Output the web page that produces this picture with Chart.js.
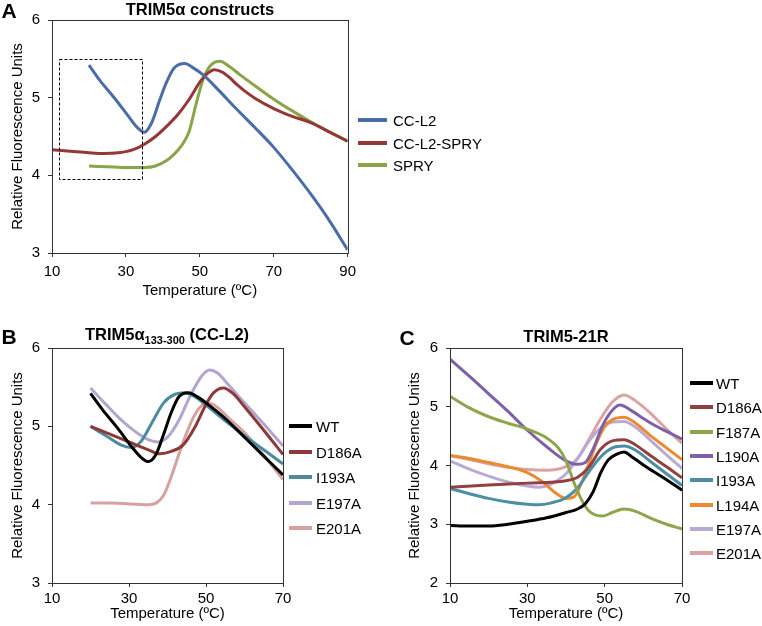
<!DOCTYPE html>
<html>
<head>
<meta charset="utf-8">
<script src="https://cdn.jsdelivr.net/npm/chart.js@4/dist/chart.umd.min.js"></script>
<style>
  html, body { margin:0; padding:0; background:#fff; }
  body { width:762px; height:626px; overflow:hidden; position:relative; font-family:'Liberation Sans', Arial, sans-serif; color:#000; }
  canvas { position:absolute; }
  .t { position:absolute; transform:translate(-50%,-50%); line-height:1; white-space:nowrap; font-weight:bold; }
  .t sub { font-size:11px; vertical-align:-4px; line-height:0; }
  .legtxt { position:absolute; font-size:15px; line-height:1; white-space:nowrap; transform:translateY(-50%); }
  .legline { position:absolute; height:4px; transform:translateY(-50%); }
</style>
</head>
<body>
<canvas id="cA" width="362" height="305" style="left:0;top:0"></canvas>
<canvas id="cB" width="300" height="326" style="left:0;top:300px"></canvas>
<canvas id="cC" width="320" height="326" style="left:380px;top:300px"></canvas>

<div class="t" style="left:9px;top:10px;font-size:21px">A</div>
<div class="t" style="left:200px;top:9px;font-size:16.5px">TRIM5α constructs</div>
<div class="t" style="left:9px;top:336px;font-size:21px">B</div>
<div class="t" style="left:167px;top:334px;font-size:16.5px">TRIM5α<sub>133-300</sub> (CC-L2)</div>
<div class="t" style="left:407px;top:337px;font-size:21px">C</div>
<div class="t" style="left:566px;top:336px;font-size:16.5px">TRIM5-21R</div>

<script>
// ---------------- Panel A: TRIM5α constructs ----------------
const namesA = ['CC-L2', 'CC-L2-SPRY', 'SPRY'];
const colorsA = ['#4A6DA7', '#953735', '#8AA548'];
const tempsA_CCL2 = [20,23,27,31,33,35,37,39,41,43,46,48,51,55,60,65,70,75,80,85,90];
const valsA_CCL2  = [5.42,5.22,4.99,4.74,4.62,4.555,4.68,4.95,5.2,5.38,5.44,5.39,5.29,5.1,4.85,4.61,4.36,4.07,3.76,3.42,3.04];
const tempsA_CCL2SPRY = [10,15,20,24,28,32,35,38,41,44,47,50,52,54,56,58,60,62,65,70,75,80,85,90];
const valsA_CCL2SPRY  = [4.33,4.31,4.29,4.28,4.29,4.33,4.40,4.50,4.63,4.78,4.97,5.2,5.31,5.36,5.33,5.26,5.17,5.09,4.99,4.86,4.76,4.68,4.56,4.44];
const tempsA_SPRY = [20,25,30,35,38,41,43,45,47,49,51,53,55.5,58,61,65,70,75,80,85,90];
const valsA_SPRY  = [4.12,4.11,4.10,4.10,4.12,4.19,4.27,4.38,4.55,4.92,5.25,5.42,5.47,5.4,5.29,5.15,4.98,4.83,4.69,4.56,4.44];
const dashedBoxA = [12, 34.5, 3.95, 5.5]; // xMin, xMax, yMin, yMax (data units)
const xTicksA = [10, 90, 20];
const yTicksA = [3, 6, 1];

// ---------------- Panel B: TRIM5α133-300 (CC-L2) ----------------
const namesB = ['WT', 'D186A', 'I193A', 'E197A', 'E201A'];
const colorsB = ['#000000', '#8C3A38', '#4D8A9C', '#B3A5CF', '#D6A19F'];
const tempsB_WT = [20,23,27,31,33,35,37,39,41,43,45.5,48,50,55,60,65,70];
const valsB_WT  = [5.42,5.22,4.98,4.72,4.61,4.55,4.64,4.9,5.18,5.38,5.43,5.37,5.3,5.1,4.86,4.62,4.38];
const tempsB_D186A = [20,25,30,35,38,41,44,47,50,52,54.5,57,60,65,70];
const valsB_D186A  = [5.0,4.9,4.8,4.7,4.65,4.68,4.76,4.98,5.28,5.43,5.49,5.42,5.25,4.95,4.64];
const tempsB_I193A = [20,24,28,30.5,33,36,39,42,44.5,47,50,55,60,65,70];
const valsB_I193A  = [5.0,4.88,4.76,4.73,4.8,5.05,5.3,5.41,5.43,5.38,5.27,5.07,4.88,4.7,4.52];
const tempsB_E197A = [20,24,28,32,35,37.5,40,43,46,49,51,53,56,60,65,70];
const valsB_E197A  = [5.49,5.28,5.08,4.92,4.83,4.8,4.86,5.08,5.4,5.65,5.72,5.68,5.52,5.3,5.03,4.75];
const tempsB_E201A = [20,25,30,35,37,39,41,43,45,47,49,51,53,56,60,65,70];
const valsB_E201A  = [4.02,4.02,4.01,4.0,4.02,4.12,4.36,4.65,4.92,5.14,5.27,5.29,5.24,5.1,4.92,4.63,4.32];
const xTicksB = [10, 70, 20];
const yTicksB = [3, 6, 1];

// ---------------- Panel C: TRIM5-21R ----------------
const namesC = ['WT', 'D186A', 'F187A', 'L190A', 'I193A', 'L194A', 'E197A', 'E201A'];
const colorsC = ['#000000', '#944040', '#8DA64B', '#7D60A8', '#4B8FA5', '#EB8A2E', '#B9AAD5', '#DBA4A2'];
const tempsC_WT = [10,15,20,25,30,35,40,43,45,47,49,51,53,55,57,60,65,70];
const valsC_WT  = [2.98,2.97,2.97,3.0,3.05,3.11,3.2,3.26,3.35,3.55,3.88,4.1,4.19,4.23,4.15,4.01,3.8,3.58];
const tempsC_D186A = [10,20,30,40,43,46,49,52,55,58,62,66,70];
const valsC_D186A  = [3.63,3.67,3.7,3.74,3.8,3.98,4.28,4.42,4.44,4.35,4.16,3.98,3.79];
const tempsC_F187A = [10,15,20,25,30,35,38,40,42,44,46,48,49.5,52,55,58,62,66,70];
const valsC_F187A  = [5.18,4.98,4.83,4.72,4.62,4.47,4.3,4.08,3.72,3.42,3.22,3.15,3.14,3.2,3.26,3.22,3.1,3.0,2.92];
const tempsC_L190A = [10,15,20,25,30,35,40,43,45,47,50,54,57,60,63,66,70];
const valsC_L190A  = [5.81,5.52,5.22,4.92,4.6,4.32,4.08,4.02,4.05,4.28,4.75,5.03,4.93,4.8,4.68,4.58,4.45];
const tempsC_I193A = [10,15,20,25,30,33,36,40,43,46,49,52,55,58,62,66,70];
const valsC_I193A  = [3.61,3.52,3.44,3.38,3.34,3.33,3.36,3.45,3.62,3.9,4.15,4.3,4.33,4.26,4.06,3.86,3.66];
const tempsC_L194A = [10,15,20,25,30,34,37,40,42,44,46,48,50,52,55,58,62,66,70];
const valsC_L194A  = [4.17,4.12,4.05,3.98,3.88,3.72,3.55,3.44,3.46,3.7,4.05,4.4,4.66,4.78,4.82,4.72,4.5,4.3,4.1];
const tempsC_E197A = [10,15,20,25,30,33,36,40,43,46,49,52,55,58,62,66,70];
const valsC_E197A  = [4.08,3.94,3.82,3.72,3.65,3.63,3.68,3.86,4.12,4.42,4.64,4.74,4.75,4.65,4.42,4.18,3.95];
const tempsC_E201A = [10,15,20,25,30,35,40,43,46,49,52,55,58,62,66,70];
const valsC_E201A  = [4.17,4.1,4.03,3.97,3.93,3.92,3.98,4.12,4.45,4.8,5.08,5.2,5.1,4.88,4.62,4.38];
const xTicksC = [10, 70, 20];
const yTicksC = [2, 6, 1];

const xTitle = 'Temperature (ºC)';
const yTitle = 'Relative Fluorescence Units';

// ---------------- helpers ----------------
const FONT = "'Liberation Sans', Arial, sans-serif";
Chart.defaults.font.family = FONT;
Chart.defaults.font.size = 15;
Chart.defaults.color = '#000';

function pts(t, v) { return t.map((x, i) => ({ x: x, y: v[i] })); }
function ds(label, color, t, v) {
  return { label, data: pts(t, v), borderColor: color, backgroundColor: color,
           borderWidth: 3, pointRadius: 0, pointHoverRadius: 0, fill: false,
           cubicInterpolationMode: 'monotone' };
}

const boxPlugin = {
  id: 'box',
  afterDatasetsDraw(chart, args, opts) {
    const { ctx, chartArea: a, scales } = chart;
    ctx.save();
    ctx.strokeStyle = '#333';
    ctx.lineWidth = 1;
    ctx.strokeRect(Math.round(a.left) + 0.5, Math.round(a.top) + 0.5,
                   Math.round(a.right - a.left), Math.round(a.bottom - a.top));
    if (opts && opts.dashed) {
      const d = opts.dashed;
      const x1 = scales.x.getPixelForValue(d[0]), x2 = scales.x.getPixelForValue(d[1]);
      const y1 = scales.y.getPixelForValue(d[3]), y2 = scales.y.getPixelForValue(d[2]);
      ctx.strokeStyle = '#000';
      ctx.setLineDash([3, 2]);
      ctx.strokeRect(Math.round(x1) + 0.5, Math.round(y1) + 0.5, Math.round(x2 - x1), Math.round(y2 - y1));
    }
    ctx.restore();
  }
};

function makeChart(id, datasets, cfg) {
  return new Chart(document.getElementById(id), {
    type: 'line',
    data: { datasets },
    plugins: [boxPlugin],
    options: {
      responsive: false,
      animation: false,
      events: [],
      layout: { padding: cfg.padding },
      plugins: { legend: { display: false }, tooltip: { enabled: false }, title: { display: false },
                 box: { dashed: cfg.dashed || null } },
      scales: {
        x: {
          type: 'linear', min: cfg.xt[0], max: cfg.xt[1],
          afterFit: s => { s.height = cfg.xh; },
          ticks: { stepSize: cfg.xt[2], padding: cfg.xtp, maxRotation: 0, font: { size: 15 }, color: '#000' },
          grid: { drawOnChartArea: false, drawTicks: true, tickLength: 4, color: '#333' },
          border: { display: true, color: '#333', width: 1 },
          title: { display: true, text: xTitle, font: { size: 15, lineHeight: 1.2 }, color: '#000',
                   padding: { top: 0, bottom: cfg.xtb } }
        },
        y: {
          type: 'linear', min: cfg.yt[0], max: cfg.yt[1],
          afterFit: s => { s.width = cfg.yw; },
          ticks: { stepSize: cfg.yt[2], padding: 8, font: { size: 15 }, color: '#000' },
          grid: { drawOnChartArea: false, drawTicks: true, tickLength: 4, color: '#333' },
          border: { display: true, color: '#333', width: 1 },
          title: { display: true, text: yTitle, font: { size: 15, lineHeight: 1.2 }, color: '#000',
                   padding: { top: cfg.ytp, bottom: 0 } }
        }
      }
    }
  });
}

makeChart('cA', [
  ds(namesA[0], colorsA[0], tempsA_CCL2, valsA_CCL2),
  ds(namesA[1], colorsA[1], tempsA_CCL2SPRY, valsA_CCL2SPRY),
  ds(namesA[2], colorsA[2], tempsA_SPRY, valsA_SPRY)
], { padding: { left: 0, top: 20, right: 13, bottom: 0 }, xh: 52, yw: 52, xtp: 6, xtb: 5, ytp: 9,
     xt: xTicksA, yt: yTicksA, dashed: dashedBoxA });

makeChart('cB', [
  ds(namesB[0], colorsB[0], tempsB_WT, valsB_WT),
  ds(namesB[1], colorsB[1], tempsB_D186A, valsB_D186A),
  ds(namesB[2], colorsB[2], tempsB_I193A, valsB_I193A),
  ds(namesB[3], colorsB[3], tempsB_E197A, valsB_E197A),
  ds(namesB[4], colorsB[4], tempsB_E201A, valsB_E201A)
], { padding: { left: 0, top: 48, right: 17, bottom: 0 }, xh: 43, yw: 52, xtp: 3, xtb: 3, ytp: 9,
     xt: xTicksB, yt: yTicksB });

makeChart('cC', [
  ds(namesC[0], colorsC[0], tempsC_WT, valsC_WT),
  ds(namesC[1], colorsC[1], tempsC_D186A, valsC_D186A),
  ds(namesC[2], colorsC[2], tempsC_F187A, valsC_F187A),
  ds(namesC[3], colorsC[3], tempsC_L190A, valsC_L190A),
  ds(namesC[4], colorsC[4], tempsC_I193A, valsC_I193A),
  ds(namesC[5], colorsC[5], tempsC_L194A, valsC_L194A),
  ds(namesC[6], colorsC[6], tempsC_E197A, valsC_E197A),
  ds(namesC[7], colorsC[7], tempsC_E201A, valsC_E201A)
], { padding: { left: 0, top: 48, right: 18, bottom: 0 }, xh: 43, yw: 70, xtp: 3, xtb: 3, ytp: 26,
     xt: xTicksC, yt: yTicksC });

// ---------------- legends (HTML text) ----------------
function legend(names, colors, lx, lw, tx, y0, step) {
  names.forEach((n, i) => {
    const y = y0 + i * step;
    const line = document.createElement('div');
    line.className = 'legline';
    line.style.cssText = `left:${lx}px;top:${y}px;width:${lw}px;background:${colors[i]}`;
    document.body.appendChild(line);
    const t = document.createElement('div');
    t.className = 'legtxt';
    t.style.cssText = `left:${tx}px;top:${y}px`;
    t.textContent = n;
    document.body.appendChild(t);
  });
}
legend(namesA, colorsA, 358, 29, 393, 120, 22.5);
legend(namesB, colorsB, 289, 23, 316, 426, 25.5);
legend(namesC, colorsC, 690, 23, 716, 383, 24.3);
</script>
</body>
</html>
